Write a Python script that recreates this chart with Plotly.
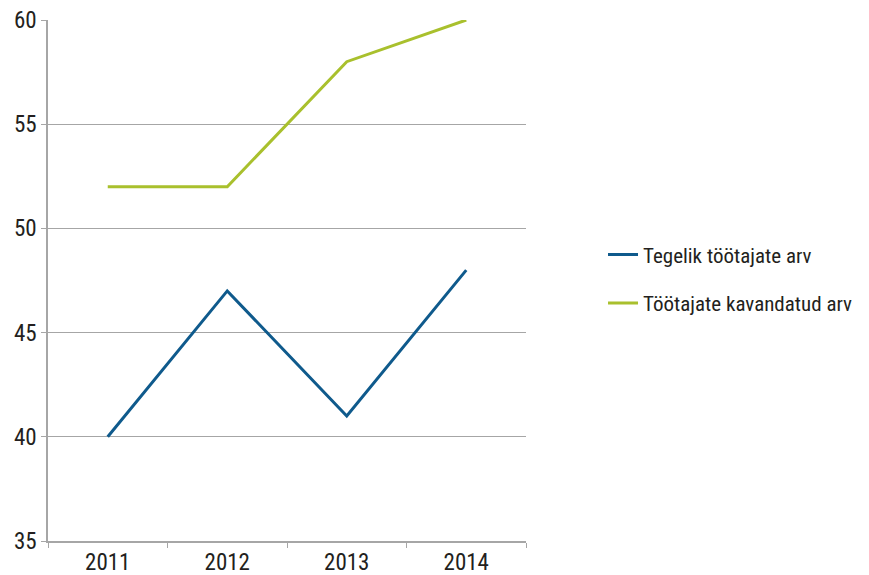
import plotly.graph_objects as go

years = ["2011", "2012", "2013", "2014"]
tegelik = [40, 47, 41, 48]
kavandatud = [52, 52, 58, 60]
y_ticks = [35, 40, 45, 50, 55, 60]

FONT = "Roboto Condensed, DejaVu Sans Condensed, sans-serif"
GRID = "#a6a6a6"
TXT = "#231f20"

fig = go.Figure()
fig.add_trace(go.Scatter(x=years, y=tegelik, mode="lines", name="Tegelik töötajate arv",
                         line=dict(color="#0f5a8c", width=3), legendgroup="a"))
fig.add_trace(go.Scatter(x=years, y=kavandatud, mode="lines", name="Töötajate kavandatud arv",
                         line=dict(color="#a9c02d", width=3), legendgroup="b"))

fig.update_layout(
    width=869, height=575,
    margin=dict(l=48, r=342, t=20, b=34),
    paper_bgcolor="white", plot_bgcolor="white",
    font=dict(family=FONT, size=23, color=TXT),
    showlegend=True,
    legend=dict(x=1.1587, y=0.503, xanchor="left", yanchor="middle",
                font=dict(family=FONT, size=21, color=TXT),
                traceorder="grouped", tracegroupgap=18),
    xaxis=dict(type="category", range=[-0.5, 3.5], showline=True, linecolor=GRID, linewidth=1.5,
               ticks="outside", tickson="boundaries", ticklen=5, tickcolor=GRID,
               showgrid=False, tickfont=dict(size=23), automargin=False),
    yaxis=dict(range=[35, 60], tickvals=y_ticks, showline=True, linecolor=GRID, linewidth=1.5,
               ticks="outside", ticklen=5, tickcolor=GRID, showgrid=True, gridcolor=GRID,
               gridwidth=1, zeroline=False, tickfont=dict(size=23), automargin=False),
)
fig.write_html("out.html", config={"displayModeBar": False},
               post_script="document.body.style.margin='0';")
